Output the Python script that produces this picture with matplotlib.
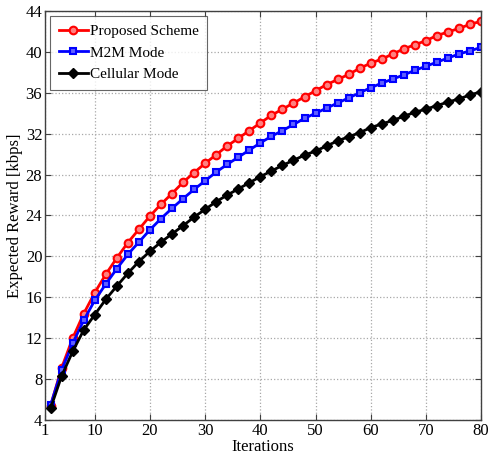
import numpy as np
import matplotlib
matplotlib.use('Agg')
import matplotlib.pyplot as plt

# Iterations at which markers are plotted
iterations = np.arange(2, 81, 2)

proposed = [5.4, 9.1, 12.0, 14.4, 16.45, 18.25, 19.85, 21.35, 22.65, 23.95,
            25.1, 26.15, 27.25, 28.2, 29.1, 29.95, 30.8, 31.55, 32.3, 33.05,
            33.8, 34.4, 35.0, 35.6, 36.2, 36.8, 37.3, 37.8, 38.4, 38.9,
            39.3, 39.8, 40.3, 40.7, 41.1, 41.6, 41.95, 42.3, 42.7, 43.0]
m2m = [5.45, 8.9, 11.5, 13.75, 15.7, 17.3, 18.8, 20.2, 21.4, 22.6,
       23.7, 24.7, 25.65, 26.55, 27.4, 28.25, 29.0, 29.7, 30.4, 31.1,
       31.75, 32.3, 32.9, 33.5, 34.0, 34.5, 35.0, 35.5, 36.0, 36.5,
       36.95, 37.35, 37.75, 38.2, 38.6, 39.0, 39.4, 39.8, 40.1, 40.45]
cellular = [5.15, 8.3, 10.7, 12.8, 14.3, 15.8, 17.1, 18.35, 19.5, 20.5,
            21.4, 22.2, 23.0, 23.85, 24.6, 25.35, 26.0, 26.6, 27.2, 27.8,
            28.35, 28.9, 29.4, 29.9, 30.3, 30.8, 31.3, 31.7, 32.1, 32.6,
            32.95, 33.3, 33.7, 34.1, 34.4, 34.75, 35.1, 35.4, 35.8, 36.1]

labels = ['Proposed Scheme', 'M2M Mode', 'Cellular Mode']
xticks = [1, 10, 20, 30, 40, 50, 60, 70, 80]
yticks = list(range(4, 45, 4))

plt.rcParams['font.family'] = ['Liberation Serif', 'DejaVu Serif']

fig = plt.figure(figsize=(4.9, 4.58), dpi=100)
ax = fig.add_axes([0.092, 0.083, 0.890, 0.893])

ax.plot(iterations, proposed, color='red', lw=2, marker='o', ms=5.5,
        mfc='#ff8080', mec='red', mew=1.5, label=labels[0])
ax.plot(iterations, m2m, color='blue', lw=2, marker='s', ms=5,
        mfc='#6060ff', mec='blue', mew=1.5, label=labels[1])
ax.plot(iterations, cellular, color='black', lw=2, marker='D', ms=5,
        mfc='black', mec='black', label=labels[2])

ax.set_xlim(1, 80)
ax.set_ylim(4, 44)
ax.set_xticks(xticks)
ax.set_yticks(yticks)
ax.tick_params(direction='in', labelsize=12, length=4, color='#404040',
               top=True, right=True, pad=2)
ax.grid(True, linestyle=':', color='#a8a8a8', linewidth=0.9)
for s in ax.spines.values():
    s.set_color('#404040')
    s.set_linewidth(1.0)

ax.set_xlabel('Iterations', fontsize=12, labelpad=0)
ax.set_ylabel('Expected Reward [kbps]', fontsize=12, labelpad=2)

leg = ax.legend(loc='upper left', fontsize=11, frameon=True, fancybox=False,
                edgecolor='#404040', handlelength=1.9, handletextpad=0.15,
                borderpad=0.55, labelspacing=0.5, borderaxespad=0.35)
leg.get_frame().set_linewidth(0.8)

fig.savefig('out.png', dpi=100)
